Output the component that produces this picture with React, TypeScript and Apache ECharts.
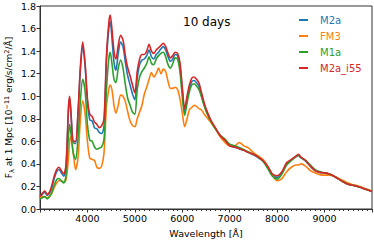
import React, { useEffect, useRef } from "react";
import * as echarts from "echarts";

const wavelengths = [
  3000, 3050, 3100, 3150, 3200, 3250, 3300, 3350, 3400, 3450, 3500, 3550, 3600, 3625, 3650, 3700, 3750, 3800, 3850, 3900,
  3950, 4000, 4050, 4100, 4150, 4200, 4250, 4300, 4350, 4400, 4450, 4480, 4520, 4560, 4600, 4650, 4700, 4750, 4800, 4850,
  4900, 4950, 5000, 5050, 5100, 5150, 5200, 5250, 5300, 5350, 5400, 5450, 5500, 5550, 5600, 5650, 5700, 5750, 5800, 5850,
  5900, 5950, 6000, 6050, 6100, 6150, 6200, 6250, 6300, 6350, 6400, 6450, 6500, 6600, 6700, 6800, 6900, 7000, 7100, 7200,
  7300, 7400, 7500, 7600, 7700, 7800, 7900, 8000, 8100, 8200, 8300, 8400, 8450, 8500, 8600, 8700, 8800, 8900, 9000, 9100,
  9200, 9300, 9400, 9500, 9600, 9700, 9800, 9900, 10000,
];

const m2a = [
  0.11, 0.13, 0.15, 0.12, 0.14, 0.19, 0.27, 0.33, 0.35, 0.32, 0.29, 0.38, 0.88, 0.98, 0.86, 0.59, 0.58, 0.83, 1.22, 1.45,
  1.27, 0.95, 0.79, 0.78, 0.72, 0.71, 0.68, 0.67, 0.74, 1.3, 1.6, 1.66, 1.5, 1.3, 1.23, 1.38, 1.48, 1.44, 1.3, 1.18,
  1.1, 1.02, 0.97, 1.16, 1.28, 1.32, 1.33, 1.36, 1.41, 1.35, 1.33, 1.37, 1.39, 1.42, 1.44, 1.41, 1.35, 1.31, 1.33, 1.37,
  1.36, 1.27, 1.05, 0.86, 0.97, 1.07, 1.13, 1.14, 1.12, 1.09, 1.02, 0.94, 0.88, 0.78, 0.71, 0.645, 0.605, 0.56, 0.55, 0.535,
  0.52, 0.5, 0.48, 0.455, 0.425, 0.37, 0.3, 0.28, 0.32, 0.4, 0.435, 0.465, 0.475, 0.455, 0.425, 0.38, 0.34, 0.325, 0.32, 0.31,
  0.29, 0.265, 0.24, 0.22, 0.21, 0.2, 0.185, 0.17, 0.155,
];

const fm3 = [
  0.1, 0.11, 0.11, 0.1, 0.11, 0.14, 0.19, 0.23, 0.25, 0.25, 0.24, 0.26, 0.45, 0.6, 0.64, 0.5, 0.35, 0.45, 0.78, 0.96,
  0.85, 0.6, 0.45, 0.44, 0.43, 0.37, 0.36, 0.38, 0.5, 0.9, 1.06, 1.1, 1.05, 0.92, 0.85, 0.92, 1.01, 1.0, 0.95, 0.86,
  0.78, 0.74, 0.73, 0.8, 0.86, 0.92, 1.02, 1.08, 1.15, 1.21, 1.17, 1.2, 1.25, 1.2, 1.24, 1.22, 1.13, 1.07, 1.07, 1.08,
  1.06, 0.98, 0.85, 0.73, 0.8, 0.88, 0.9, 0.92, 0.91, 0.89, 0.88, 0.85, 0.82, 0.77, 0.71, 0.64, 0.59, 0.56, 0.56, 0.59,
  0.56, 0.54, 0.5, 0.47, 0.44, 0.38, 0.3, 0.25, 0.27, 0.33, 0.37, 0.39, 0.39, 0.4, 0.38, 0.34, 0.32, 0.305, 0.3, 0.3,
  0.29, 0.27, 0.25, 0.23, 0.215, 0.205, 0.19, 0.175, 0.16,
];

const m1a = [
  0.09, 0.1, 0.11, 0.09, 0.11, 0.15, 0.21, 0.26, 0.27, 0.25, 0.23, 0.3, 0.65, 0.75, 0.68, 0.5, 0.44, 0.62, 0.95, 1.15,
  1.05, 0.75, 0.61, 0.6, 0.55, 0.53, 0.54, 0.55, 0.62, 1.05, 1.33, 1.39, 1.28, 1.15, 1.12, 1.25, 1.32, 1.25, 1.1, 0.98,
  0.92, 0.86, 0.84, 1.06, 1.17, 1.22, 1.25, 1.29, 1.35, 1.29, 1.28, 1.33, 1.36, 1.38, 1.39, 1.35, 1.28, 1.25, 1.29, 1.34,
  1.33, 1.22, 1.0, 0.83, 0.94, 1.04, 1.1, 1.11, 1.09, 1.06, 1.0, 0.93, 0.87, 0.78, 0.71, 0.655, 0.62, 0.575, 0.56, 0.545,
  0.525, 0.505, 0.485, 0.46, 0.425, 0.36, 0.29, 0.265, 0.31, 0.39, 0.43, 0.465, 0.475, 0.455, 0.43, 0.39, 0.35, 0.33, 0.32, 0.31,
  0.29, 0.265, 0.24, 0.22, 0.21, 0.2, 0.185, 0.17, 0.155,
];

const m2aI55 = [
  0.11, 0.14, 0.16, 0.13, 0.15, 0.21, 0.29, 0.35, 0.37, 0.34, 0.31, 0.4, 0.9, 1.0, 0.88, 0.6, 0.6, 0.85, 1.25, 1.48,
  1.3, 0.98, 0.84, 0.82, 0.77, 0.75, 0.72, 0.74, 0.8, 1.35, 1.65, 1.72, 1.58, 1.4, 1.33, 1.45, 1.54, 1.5, 1.36, 1.25,
  1.18, 1.1, 1.03, 1.22, 1.33, 1.37, 1.37, 1.4, 1.46, 1.4, 1.38, 1.41, 1.43, 1.45, 1.47, 1.44, 1.38, 1.34, 1.36, 1.39,
  1.38, 1.3, 1.08, 0.89, 1.0, 1.1, 1.16, 1.17, 1.15, 1.12, 1.04, 0.96, 0.89, 0.79, 0.72, 0.65, 0.61, 0.56, 0.55, 0.535,
  0.52, 0.5, 0.485, 0.46, 0.43, 0.38, 0.31, 0.295, 0.33, 0.41, 0.44, 0.47, 0.485, 0.46, 0.43, 0.38, 0.34, 0.325, 0.32, 0.31,
  0.29, 0.265, 0.24, 0.22, 0.21, 0.2, 0.185, 0.17, 0.155,
];

const seriesNames = ["M2a", "FM3", "M1a", "M2a_i55"];
const seriesColors = ["#1f77b4", "#ff7f0e", "#2ca02c", "#d62728"];
const seriesValues = [m2a, fm3, m1a, m2aI55];
const titleText = "10 days";

const FONT = "DejaVu Sans";

export default function App() {
  const ref = useRef<HTMLDivElement>(null);
  useEffect(() => {
    if (!ref.current) return;
    const chart = echarts.init(ref.current, undefined, { renderer: "svg" });
    chart.setOption({
      animation: false,
      grid: {
        left: 40,
        right: 2,
        top: 6,
        bottom: 34,
        show: true,
        borderColor: "#333",
        borderWidth: 1,
        outerBoundsMode: "none",
        containLabel: false,
      },
      title: {
        text: titleText,
        left: 183,
        top: 16,
        padding: 0,
        textStyle: { fontFamily: FONT, fontSize: 12, fontWeight: "normal", color: "#000" },
      },
      legend: {
        orient: "vertical",
        left: 299,
        top: 15,
        padding: 0,
        itemWidth: 9,
        itemHeight: 2,
        itemGap: 6,
        icon: "rect",
        textStyle: { fontFamily: FONT, fontSize: 10, padding: [0, 0, 0, 7] },
        data: seriesNames.map((n, i) => ({ name: n, textStyle: { color: seriesColors[i] } })),
      },
      xAxis: {
        type: "value",
        min: 3000,
        max: 10000,
        interval: 1000,
        name: "Wavelength [Å]",
        nameLocation: "middle",
        nameGap: 19,
        nameMoveOverlap: false,
        nameTextStyle: { fontFamily: FONT, fontSize: 9.5, color: "#000" },
        axisLine: { show: true, onZero: false, lineStyle: { color: "#333" } },
        axisTick: { show: true, length: 3.5, lineStyle: { color: "#333" } },
        minorTick: { show: true, splitNumber: 10, length: 2, lineStyle: { color: "#333" } },
        axisLabel: {
          showMinLabel: false,
          showMaxLabel: false,
          fontFamily: FONT,
          fontSize: 9.5,
          color: "#000",
          margin: 4,
          formatter: (v: number) => String(v),
        },
        splitLine: { show: false },
      },
      yAxis: {
        type: "value",
        min: 0,
        max: 1.8,
        interval: 0.2,
        name: "F{sub|λ} at 1 Mpc [10{sup|−11} erg/s/cm{sup|2}/Å]",
        nameLocation: "middle",
        nameGap: 25,
        nameMoveOverlap: false,
        nameRotate: 90,
        nameTextStyle: {
          fontFamily: FONT,
          fontSize: 9,
          color: "#000",
          lineHeight: 12,
          rich: {
            sub: { fontFamily: FONT, fontSize: 6.5, verticalAlign: "bottom", lineHeight: 12, color: "#000" },
            sup: { fontFamily: FONT, fontSize: 6.5, verticalAlign: "top", lineHeight: 12, color: "#000" },
          },
        },
        axisLine: { show: true, lineStyle: { color: "#333" } },
        axisTick: { show: true, length: 3.5, lineStyle: { color: "#333" } },
        axisLabel: {
          fontFamily: FONT,
          fontSize: 9.5,
          color: "#000",
          margin: 4,
          formatter: (v: number) => v.toFixed(1),
        },
        splitLine: { show: false },
      },
      series: seriesNames.map((n, i) => ({
        name: n,
        type: "line",
        data: wavelengths.map((w, j) => [w, seriesValues[i][j]]),
        showSymbol: false,
        smooth: 0.3,
        lineStyle: { width: 1.6, color: seriesColors[i] },
        itemStyle: { color: seriesColors[i] },
        z: 2 + i,
      })),
    });
    return () => chart.dispose();
  }, []);
  return <div ref={ref} style={{ position: "absolute", left: 0, top: 0, width: 374, height: 243 }} />;
}
